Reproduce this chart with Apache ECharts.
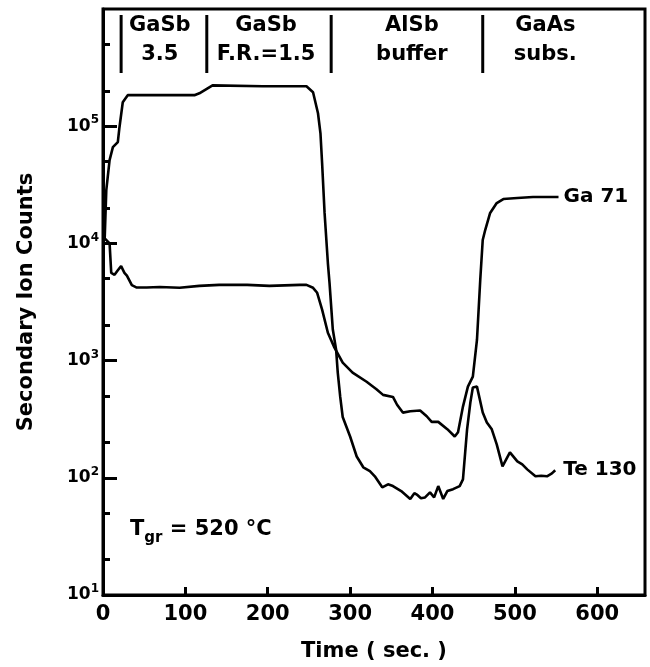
<!DOCTYPE html>
<html>
<head>
<meta charset="utf-8">
<script src="https://cdn.jsdelivr.net/npm/echarts@6/dist/echarts.min.js"></script>
<style>
  html, body { margin: 0; padding: 0; background: #fff; }
  #chart { width: 650px; height: 667px; }
</style>
</head>
<body>
<div id="chart"></div>
<script>
// traces read off the plot as drawn: [time (s), counts]
// the two lines meet near 450 s, each one is named by the label at its end
const gaTrace = [
  [0, 11400], [8, 10000], [10, 5600], [14, 5400], [18, 5900], [22, 6400], [26, 5600],
  [29, 5300], [35, 4400], [41, 4200], [53, 4200], [69, 4250], [93, 4180], [117, 4340],
  [141, 4430], [175, 4430], [202, 4340], [239, 4430], [247, 4430], [255, 4180], [260, 3790],
  [266, 2720], [273, 1730], [281, 1290], [291, 960], [303, 790], [320, 660], [332, 570],
  [340, 510], [352, 490], [357, 420], [364, 360], [373, 370], [385, 375], [393, 335],
  [399, 300], [407, 300], [418, 260], [427, 225], [431, 245], [437, 405], [443, 600],
  [449, 730], [454, 1500], [458, 4900], [461, 10700], [464, 13000], [470, 18200],
  [478, 22100], [486, 23900], [503, 24400], [522, 24900], [534, 24900], [553, 24900]
];
const teTrace = [
  [2, 10700], [4, 28500], [8, 51400], [12, 66200], [18, 73100], [20, 98000], [24, 160000],
  [30, 184000], [111, 184000], [117, 191000], [133, 223000], [194, 219000], [247, 219000],
  [255, 195000], [261, 129000], [264, 87000], [266, 48400], [269, 18200], [273, 6800],
  [275, 4600], [279, 1840], [283, 1240], [285, 790], [288, 490], [291, 330], [300, 225],
  [308, 152], [316, 123], [324, 114], [330, 103], [339, 83], [346, 88], [352, 85],
  [362, 77], [373, 66], [378, 74], [381, 72], [386, 67], [391, 68], [397, 75], [402, 68],
  [407, 85], [413, 66], [418, 77], [425, 80], [433, 85], [437, 97], [442, 259], [446, 440],
  [449, 590], [454, 600], [461, 361], [466, 297], [472, 259], [478, 193], [485, 125],
  [494, 165], [503, 138], [509, 130], [515, 118], [525, 103], [532, 104], [539, 103],
  [545, 109], [549, 116]
];

// layers marked along the top
const layerNames = [['GaSb', '3.5'], ['GaSb', 'F.R.=1.5'], ['AlSb', 'buffer'], ['GaAs', 'subs.']];
const layerCentres = [69, 198, 375, 537];   // sec
const layerBounds = [22, 126, 277, 461];    // sec

const timeTicks = [0, 100, 200, 300, 400, 500, 600];
const decadeTicks = [10, 100, 1000, 10000, 100000];
const minorTicks = [20, 50, 200, 500, 2000, 5000, 20000, 50000, 200000, 500000];

const FONT = 'DejaVu Sans';
const boldText = { fontFamily: FONT, fontWeight: 'bold', color: '#000' };

const chart = echarts.init(document.getElementById('chart'));

chart.setOption({
  animation: false,
  backgroundColor: '#fff',
  grid: {
    left: 103, right: 5, top: 9, bottom: 71,
    show: true, borderColor: '#000', borderWidth: 3
  },
  xAxis: {
    type: 'value',
    min: 0,
    max: 658,
    interval: 100,
    name: 'Time ( sec. )',
    nameLocation: 'middle',
    nameGap: 46,
    nameTextStyle: { ...boldText, fontSize: 21 },
    axisLine: { lineStyle: { color: '#000', width: 3 } },
    axisTick: { inside: true, length: 8, customValues: timeTicks, lineStyle: { color: '#000', width: 3 } },
    axisLabel: { customValues: timeTicks, margin: 9, ...boldText, fontSize: 21 },
    splitLine: { show: false }
  },
  yAxis: [
    {
      type: 'log',
      logBase: 10,
      min: 10,
      max: 1000000,
      name: 'Secondary Ion Counts',
      nameLocation: 'middle',
      nameRotate: 90,
      nameGap: 66,
      nameTextStyle: { ...boldText, fontSize: 21 },
      axisLine: { lineStyle: { color: '#000', width: 3 } },
      axisTick: { inside: true, length: 14, customValues: decadeTicks, lineStyle: { color: '#000', width: 3 } },
      axisLabel: {
        customValues: decadeTicks,
        margin: 4,
        formatter: function (v) {
          return '{b|10}{s|' + Math.round(Math.log10(v)) + '}';
        },
        rich: {
          b: { ...boldText, fontSize: 17, lineHeight: 24, verticalAlign: 'middle' },
          s: { ...boldText, fontSize: 12, verticalAlign: 'top' }
        }
      },
      splitLine: { show: false }
    },
    {
      // second axis only for the 2 and 5 ticks in every decade
      type: 'log',
      logBase: 10,
      min: 10,
      max: 1000000,
      position: 'left',
      axisLine: { show: false },
      axisTick: { inside: true, length: 7, customValues: minorTicks, lineStyle: { color: '#000', width: 3 } },
      axisLabel: { show: false },
      splitLine: { show: false }
    }
  ],
  series: [
    {
      name: 'Ga 71',
      type: 'line',
      data: gaTrace,
      showSymbol: false,
      lineStyle: { color: '#000', width: 2.6 },
      endLabel: { show: true, formatter: 'Ga 71', distance: 5, ...boldText, fontSize: 20 }
    },
    {
      name: 'Te 130',
      type: 'line',
      data: teTrace,
      showSymbol: false,
      lineStyle: { color: '#000', width: 2.6 },
      endLabel: { show: true, formatter: 'Te 130', distance: 8, ...boldText, fontSize: 20 }
    }
  ]
});

// layer separators and names along the top, placed by time
const toX = t => chart.convertToPixel({ xAxisIndex: 0 }, t);
const graphics = [];
layerBounds.forEach(t => {
  const x = toX(t);
  graphics.push({
    type: 'line',
    shape: { x1: x, y1: 15, x2: x, y2: 73 },
    style: { stroke: '#000', lineWidth: 3 }
  });
});
layerNames.forEach((lines, i) => {
  const x = toX(layerCentres[i]);
  lines.forEach((txt, j) => {
    graphics.push({
      type: 'text',
      x: x,
      y: 26 + j * 29,
      style: {
        text: txt,
        fill: '#000',
        font: 'bold 21px "' + FONT + '"',
        align: 'center',
        verticalAlign: 'middle'
      }
    });
  });
});
graphics.push({
  type: 'text',
  x: 130,
  y: 530,
  style: {
    text: '{t|T}{sub|gr}{t| = 520 °C}',
    fill: '#000',
    verticalAlign: 'middle',
    rich: {
      t: { fontFamily: FONT, fontWeight: 'bold', fontSize: 21, lineHeight: 32, verticalAlign: 'middle' },
      sub: { fontFamily: FONT, fontWeight: 'bold', fontSize: 15, verticalAlign: 'bottom' }
    }
  }
});
chart.setOption({ graphic: graphics });

window.addEventListener('resize', function () {
  chart.resize();
});
</script>
</body>
</html>
